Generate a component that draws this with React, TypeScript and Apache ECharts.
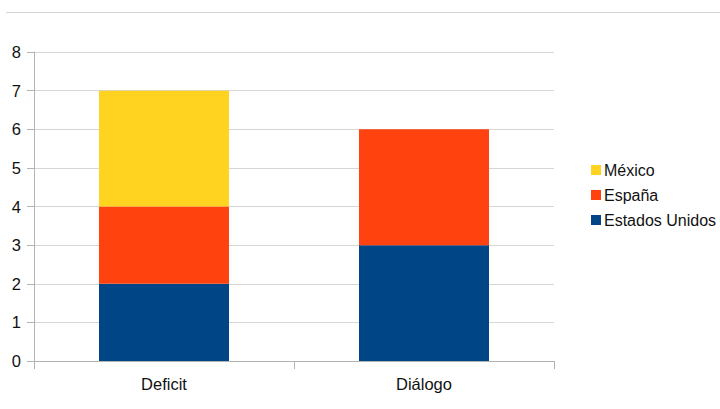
import React, { useEffect, useRef } from "react";
import * as echarts from "echarts";

const categories = ["Deficit", "Diálogo"];
const estadosUnidos = [2, 3];
const espana = [2, 3];
const mexico = [3, null];
const yTicks = [0, 8, 1];

export default function App() {
  const ref = useRef<HTMLDivElement>(null);
  useEffect(() => {
    const chart = echarts.init(ref.current!, null, { renderer: "svg" });
    const font = "'Liberation Sans', Arial, sans-serif";
    chart.setOption({
      animation: false,
      textStyle: { fontFamily: font },
      graphic: [
        {
          type: "line",
          shape: { x1: 6, y1: 12.5, x2: 720, y2: 12.5 },
          style: { stroke: "#d4d4d4", lineWidth: 1 },
        },
      ],
      grid: { left: 34, right: 166, top: 52, bottom: 48 },
      legend: {
        orient: "vertical",
        left: 586,
        top: 157,
        itemWidth: 10,
        itemHeight: 10,
        itemGap: 9,
        icon: "rect",
        data: ["México", "España", "Estados Unidos"],
        textStyle: { fontSize: 16, color: "#111", fontFamily: font, padding: [0, 0, 0, -2] },
      },
      xAxis: {
        type: "category",
        data: categories,
        axisLine: { lineStyle: { color: "#b3b3b3" } },
        axisTick: { show: true, length: 8, lineStyle: { color: "#b3b3b3" } },
        axisLabel: { fontSize: 16.5, color: "#111", margin: 14, fontFamily: font },
      },
      yAxis: {
        type: "value",
        min: yTicks[0],
        max: yTicks[1],
        interval: yTicks[2],
        axisLine: { show: true, lineStyle: { color: "#b3b3b3" } },
        axisTick: { show: true, length: 7, lineStyle: { color: "#b3b3b3" } },
        axisLabel: { fontSize: 16.5, color: "#111", margin: 13, fontFamily: font },
        splitLine: { lineStyle: { color: "#d6d6d6" } },
      },
      series: [
        { name: "Estados Unidos", type: "bar", stack: "a", barWidth: "50%", data: estadosUnidos, itemStyle: { color: "#004586" } },
        { name: "España", type: "bar", stack: "a", barWidth: "50%", data: espana, itemStyle: { color: "#ff420e" } },
        { name: "México", type: "bar", stack: "a", barWidth: "50%", data: mexico, itemStyle: { color: "#ffd320" } },
      ],
    });
    return () => chart.dispose();
  }, []);
  return (
    <div
      ref={ref}
      style={{ position: "fixed", left: 0, top: 0, width: 720, height: 409, background: "#fff" }}
    />
  );
}
